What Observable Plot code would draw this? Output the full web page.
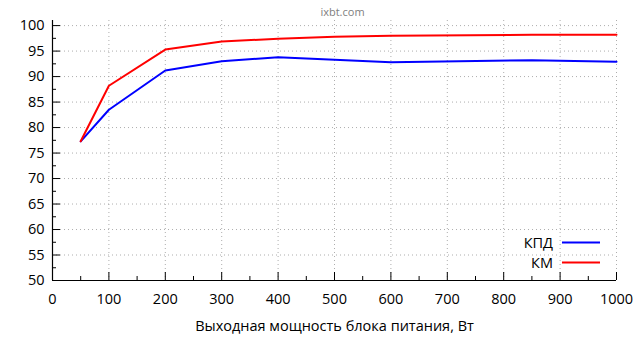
<!DOCTYPE html>
<html><head><meta charset="utf-8">
<script src="https://cdn.jsdelivr.net/npm/d3@7"></script>
<script src="https://cdn.jsdelivr.net/npm/@observablehq/plot@0.6"></script>
<style>
body{margin:0;background:#fff;font-family:"Open Sans",sans-serif;}
#wrap{position:relative;width:640px;height:360px;}
#legend{position:absolute;left:0;top:0;width:640px;height:360px;pointer-events:none;}
</style></head>
<body><div id="wrap"></div>
<script>
const power = [50,100,200,300,400,500,600,850,1000];
const kpd   = [77.3,83.5,91.2,93.0,93.8,93.3,92.8,93.2,92.9];
const km    = [77.3,88.2,95.3,96.9,97.4,97.8,98.0,98.2,98.2];
const seriesNames = ["КПД","КМ"];
const seriesColors = ["#0000ff","#ff0000"];
const xTicks = [0,100,200,300,400,500,600,700,800,900,1000];
const xMinor = [50,150,250,350,450,550,650,750,850,950];
const yTicks = [50,55,60,65,70,75,80,85,90,95,100];
const yMinor = [52.5,57.5,62.5,67.5,72.5,77.5,82.5,87.5,92.5,97.5];
const title = "ixbt.com";
const xLabel = "Выходная мощность блока питания, Вт";

const rows = [];
power.forEach((p,i)=>{rows.push({x:p,y:kpd[i],s:seriesNames[0]});});
power.forEach((p,i)=>{rows.push({x:p,y:km[i],s:seriesNames[1]});});

const fs = 14.5;
const chart = Plot.plot({
  width:640, height:360,
  marginLeft:52, marginRight:24, marginTop:20, marginBottom:80,
  style:{fontFamily:"'Open Sans', sans-serif", fontSize:fs+"px", color:"#000"},
  x:{domain:[0,1000]},
  y:{domain:[50,101]},
  color:{domain:seriesNames, range:seriesColors},
  marks:[
    Plot.gridX(xTicks.filter(d=>d>0), {stroke:"#999", strokeOpacity:0.8, strokeDasharray:"1,3"}),
    Plot.gridY(yTicks.filter(d=>d>50), {stroke:"#999", strokeOpacity:0.8, strokeDasharray:"1,3"}),
    Plot.axisX(xTicks, {tickSize:0, tickPadding:13, fontSize:fs, label:null, tickFormat:d3.format("d"), fill:"#000"}),
    Plot.axisX(xTicks, {tickSize:-8, text:null, label:null, stroke:"#000"}),
    Plot.axisX(xMinor, {tickSize:-4, text:null, label:null, stroke:"#000"}),
    Plot.axisY(yTicks, {tickSize:0, tickPadding:8, fontSize:fs, label:null, tickFormat:d3.format("d"), fill:"#000"}),
    Plot.axisY(yTicks, {tickSize:-8, text:null, label:null, stroke:"#000"}),
    Plot.axisY(yMinor, {tickSize:-4, text:null, label:null, stroke:"#000"}),
    Plot.ruleY([50], {stroke:"#000", strokeWidth:1.2}),
    Plot.ruleX([0], {stroke:"#000", strokeWidth:1.2}),
    Plot.line(rows, {x:"x", y:"y", z:"s", stroke:"s", strokeWidth:2}),
    Plot.text([title], {frameAnchor:"top", dx:8, dy:-12, fill:"#808080", fontSize:11}),
    Plot.text([xLabel], {frameAnchor:"bottom", dy:50, fontSize:fs, fill:"#000"})
  ]
});
document.getElementById("wrap").appendChild(chart);

// legend overlay
const ns="http://www.w3.org/2000/svg";
const leg=document.createElementNS(ns,"svg");
leg.setAttribute("id","legend");leg.setAttribute("width",640);leg.setAttribute("height",360);
seriesNames.forEach((name,i)=>{
  const yy = 242.5 + i*20;
  const t=document.createElementNS(ns,"text");
  t.setAttribute("x",553);t.setAttribute("y",yy);t.setAttribute("dy","0.35em");
  t.setAttribute("text-anchor","end");t.setAttribute("font-size",fs);
  t.setAttribute("font-family","'Open Sans', sans-serif");t.textContent=name;
  leg.appendChild(t);
  const l=document.createElementNS(ns,"line");
  l.setAttribute("x1",562);l.setAttribute("x2",600);l.setAttribute("y1",yy);l.setAttribute("y2",yy);
  l.setAttribute("stroke",seriesColors[i]);l.setAttribute("stroke-width",2);
  leg.appendChild(l);
});
document.getElementById("wrap").appendChild(leg);
</script></body></html>
